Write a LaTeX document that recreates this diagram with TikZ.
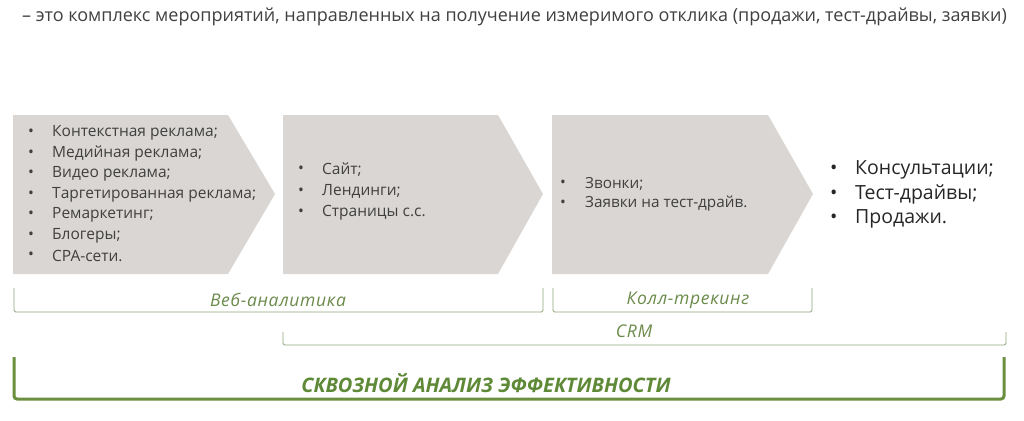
\documentclass[tikz,border=0pt]{standalone}
\usepackage{fontspec}
\setmainfont{Open Sans}
\definecolor{boxgrey}{HTML}{D9D6D3}
\definecolor{txt}{HTML}{404040}
\definecolor{thin}{HTML}{8FA37E}
\definecolor{lbl}{HTML}{6A8A4A}
\definecolor{thick}{HTML}{6A8F3E}
\definecolor{bold}{HTML}{5E8936}
\begin{document}
\begin{tikzpicture}[x=1pt,y=-1pt,
  arrowbox/.style={fill=boxgrey},
  item/.style={anchor=west,inner sep=0pt,text=txt,font=\fontsize{15.5}{17}\selectfont},
  smallitem/.style={anchor=west,inner sep=0pt,text=txt,font=\fontsize{15.3}{17}\selectfont},
  bigitem/.style={anchor=west,inner sep=0pt,text=black!85,font=\fontsize{19.5}{22}\selectfont},
  thinbr/.style={draw=thin,line width=0.8pt,rounded corners=1.5pt},
  thickbr/.style={draw=thick,line width=3pt,rounded corners=3pt},
  brlabel/.style={inner sep=0pt,text=lbl,font=\fontsize{17.5}{20}\itshape\addfontfeatures{LetterSpace=4}\selectfont},
  biglabel/.style={inner sep=0pt,text=bold,font=\fontsize{20}{23}\bfseries\itshape\selectfont}]
\useasboundingbox (0,0) rectangle (1024,420);
% header
\node[anchor=west,inner sep=0pt,text=txt,font=\fontsize{18}{21}\selectfont] (head) at (22,17)
  {– это комплекс мероприятий, направленных на получение измеримого отклика (продажи, тест-драйвы, заявки)};
% arrow shapes
\fill[arrowbox] (13,115) -- (228,115) -- (275,194) -- (228,274) -- (13,274) -- cycle;
\fill[arrowbox] (283,115) -- (498,115) -- (543,194) -- (498,274) -- (283,274) -- cycle;
\fill[arrowbox] (552,115) -- (768,115) -- (813,194) -- (768,274) -- (552,274) -- cycle;
% box 1
\foreach \t [count=\i] in {Контекстная реклама;,Медийная реклама;,Видео реклама;,Таргетированная реклама;,Ремаркетинг;,Блогеры;,CPA-сети.}{
  \node[item] (b1b\i) at (28,{133+20.5*(\i-1)}) {\textbullet};
  \node[item] (b1t\i) at (52,{133+20.5*(\i-1)}) {\t};
}
% box 2
\foreach \t [count=\i] in {Сайт;,Лендинги;,Страницы с.с.}{
  \node[item] (b2b\i) at (298,{170+21.5*(\i-1)}) {\textbullet};
  \node[item] (b2t\i) at (322,{170+21.5*(\i-1)}) {\t};
}
% box 3
\foreach \t [count=\i] in {Звонки;,Заявки на тест-драйв.}{
  \node[smallitem] (b3b\i) at (560,{184+19.5*(\i-1)}) {\textbullet};
  \node[smallitem] (b3t\i) at (585,{184+19.5*(\i-1)}) {\t};
}
% results
\foreach \t [count=\i] in {Консультации;,Тест-драйвы;,Продажи.}{
  \node[bigitem] (rb\i) at (830,{170+24.5*(\i-1)}) {\textbullet};
  \node[bigitem] (rt\i) at (855,{170+24.5*(\i-1)}) {\t};
}
% brackets
\draw[thinbr] (14,288) -- (14,312) -- (543,312) -- (543,288);
\node[brlabel] (web) at (278,300) {Веб-аналитика};
\draw[thinbr] (553,288) -- (553,312) -- (812,312) -- (812,288);
\node[brlabel] (call) at (688,300) {Колл-трекинг};
\draw[thinbr] (283,332) -- (283,345) -- (1006,345) -- (1006,332);
\node[brlabel] (crm) at (634,331) {CRM};
\draw[thickbr] (14,357) -- (14,399) -- (1004,399) -- (1004,357);
\node[biglabel] (all) at (486,383) {СКВОЗНОЙ АНАЛИЗ ЭФФЕКТИВНОСТИ};
\end{tikzpicture}
\end{document}
